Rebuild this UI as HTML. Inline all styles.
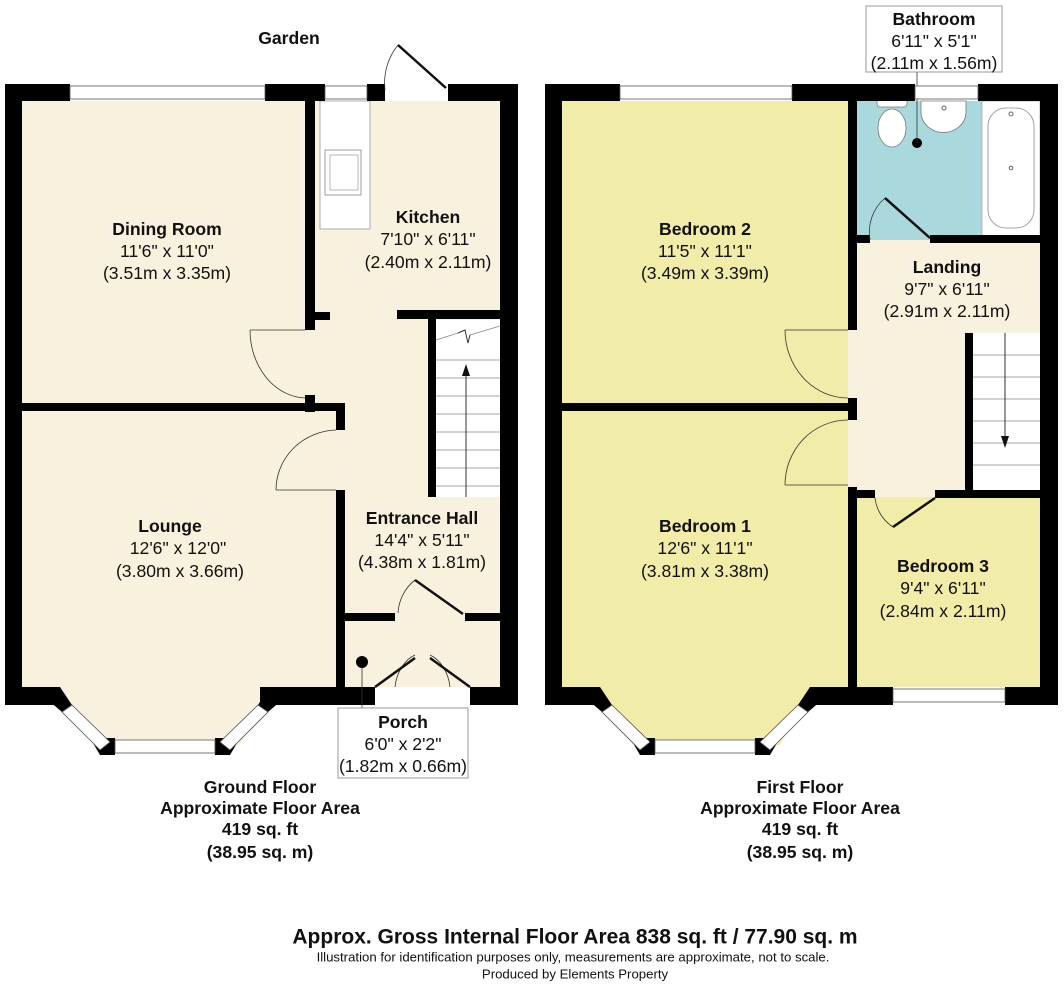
<!DOCTYPE html>
<html><head><meta charset="utf-8"><style>
html,body{margin:0;padding:0;background:#fff}
svg{display:block}
text{font-family:"Liberation Sans",Arial,sans-serif;fill:#111;text-anchor:middle;dominant-baseline:central}
.b{font-weight:bold}
.t{font-size:17.6px}
</style></head><body>
<svg width="1064" height="984" viewBox="0 0 1064 984" xmlns="http://www.w3.org/2000/svg">
<g>
<rect x="22" y="101" width="478" height="586" fill="#f8f1dd"/>
<polygon points="60,687 270,687 240,745 100,745" fill="#f8f1dd"/>
<rect x="320" y="101" width="50" height="128" fill="#fff" stroke="#999" stroke-width="0.8"/>
<rect x="325" y="150" width="36" height="45" fill="#fff" stroke="#888" stroke-width="0.8"/>
<rect x="330" y="155" width="28" height="35" fill="none" stroke="#888" stroke-width="0.6"/>
<rect x="436" y="320" width="64" height="177" fill="#fff"/>
<g stroke="#888" stroke-width="0.8">
<line x1="436" y1="360" x2="500" y2="360"/><line x1="436" y1="378" x2="500" y2="378"/>
<line x1="436" y1="396" x2="500" y2="396"/><line x1="436" y1="414" x2="500" y2="414"/>
<line x1="436" y1="432" x2="500" y2="432"/><line x1="436" y1="450" x2="500" y2="450"/>
<line x1="436" y1="468" x2="500" y2="468"/><line x1="436" y1="486" x2="500" y2="486"/>
<line x1="436" y1="340" x2="458" y2="333"/><line x1="470" y1="335" x2="500" y2="326"/>
</g>
<polyline points="458,333 465,330 468,343 470,335" fill="none" stroke="#333" stroke-width="1"/>
<line x1="466" y1="497" x2="466" y2="372" stroke="#333" stroke-width="1"/>
<polygon points="466,364 462,376 470,376" fill="#111"/>
<g fill="#000">
<rect x="5" y="84" width="17" height="621"/>
<rect x="500" y="84" width="18" height="621"/>
<rect x="5" y="84" width="65" height="17"/>
<rect x="265" y="84" width="60" height="17"/>
<rect x="367" y="84" width="18" height="17"/>
<rect x="448" y="84" width="70" height="17"/>
<rect x="5" y="687" width="55" height="18"/>
<rect x="260" y="687" width="115" height="18"/>
<rect x="470" y="687" width="48" height="18"/>
<rect x="305" y="101" width="10" height="229"/>
<rect x="305" y="312" width="25" height="8"/>
<rect x="305" y="395" width="10" height="17"/>
<rect x="397" y="310" width="103" height="9"/>
<rect x="428" y="319" width="8" height="178"/>
<rect x="22" y="403" width="323" height="8"/>
<rect x="336" y="403" width="9" height="27"/>
<rect x="336" y="490" width="9" height="197"/>
<rect x="345" y="613" width="50" height="8"/>
<rect x="465" y="613" width="35" height="8"/>
<polygon points="60,687 72,705 62,712 48,700" />
<polygon points="270,687 258,705 268,712 282,700"/>
<polygon points="90,738 115,738 115,755 100,755"/>
<polygon points="215,738 240,738 230,755 215,755"/>
</g>
<g fill="#fff" stroke="#555" stroke-width="0.8">
<rect x="70" y="86" width="195" height="13"/>
<rect x="325" y="86" width="42" height="13"/>
<rect x="115" y="740" width="100" height="13"/>
</g>
<polygon points="62,712 72,705 110,742 100,750" fill="#fff" stroke="#555" stroke-width="0.8"/>
<polygon points="268,712 258,705 220,742 230,750" fill="#fff" stroke="#555" stroke-width="0.8"/>
<g fill="none" stroke="#333" stroke-width="0.8">
<path d="M250,330 A57,68 0 0 0 305,398"/>
<line x1="250" y1="330" x2="305" y2="330"/>
<path d="M336,430 A62,60 0 0 0 276,490"/>
<line x1="276" y1="490" x2="336" y2="490"/>
<path d="M398,613 A45,45 0 0 1 415,580"/>
<path d="M385,90 A60,60 0 0 1 398,45"/>
<path d="M395,687 A30,40 0 0 1 415,655"/>
<path d="M450,687 A30,40 0 0 0 430,655"/>
<line x1="362" y1="662" x2="362" y2="708"/>
</g>
<g stroke="#111" stroke-width="2.5">
<line x1="415" y1="580" x2="463" y2="614"/>
<line x1="398" y1="45" x2="446" y2="88"/>
<line x1="375" y1="687" x2="415" y2="658"/>
<line x1="470" y1="687" x2="430" y2="658"/>
</g>
<circle cx="362" cy="662" r="6" fill="#000"/>
<rect x="338" y="708" width="130" height="70" fill="#fff" stroke="#999" stroke-width="1"/>
</g>

<g>
<rect x="562" y="101" width="478" height="586" fill="#f2eca9"/>
<polygon points="600,687 810,687 780,745 640,745" fill="#f2eca9"/>
<rect x="855" y="101" width="185" height="140" fill="#aad9dd"/>
<rect x="848" y="240" width="192" height="257" fill="#f7f1dd"/>
<rect x="982" y="101" width="58" height="135" fill="#fff" stroke="#aaa" stroke-width="0.8"/>
<rect x="988" y="108" width="46" height="120" rx="18" fill="#fff" stroke="#888" stroke-width="0.8"/>
<circle cx="1011" cy="114" r="2" fill="none" stroke="#666"/>
<circle cx="1011" cy="168" r="1.8" fill="none" stroke="#666"/>
<rect x="877" y="99" width="30" height="8" rx="3" fill="#fff" stroke="#777" stroke-width="0.8"/>
<ellipse cx="892" cy="128" rx="14" ry="19" fill="#fff" stroke="#777" stroke-width="0.8"/>
<path d="M921,101 L966,101 L966,112 A22,20 0 0 1 921,112 Z" fill="#fff" stroke="#777" stroke-width="0.8"/>
<circle cx="944" cy="108" r="2" fill="none" stroke="#666"/>
<circle cx="917" cy="143" r="5" fill="#000"/>
<line x1="917" y1="72" x2="917" y2="143" stroke="#333" stroke-width="0.8"/>
<rect x="973" y="333" width="67" height="157" fill="#fff"/>
<g stroke="#888" stroke-width="0.8">
<line x1="973" y1="355" x2="1040" y2="355"/><line x1="973" y1="377" x2="1040" y2="377"/>
<line x1="973" y1="399" x2="1040" y2="399"/><line x1="973" y1="421" x2="1040" y2="421"/>
<line x1="973" y1="443" x2="1040" y2="443"/><line x1="973" y1="465" x2="1040" y2="465"/>
</g>
<line x1="1005" y1="333" x2="1005" y2="440" stroke="#333" stroke-width="1"/>
<polygon points="1005,448 1001,436 1009,436" fill="#111"/>
<g fill="#000">
<rect x="545" y="84" width="17" height="621"/>
<rect x="1040" y="84" width="18" height="621"/>
<rect x="545" y="84" width="75" height="17"/>
<rect x="792" y="84" width="123" height="17"/>
<rect x="978" y="84" width="80" height="17"/>
<rect x="545" y="687" width="55" height="18"/>
<rect x="810" y="687" width="83" height="18"/>
<rect x="1005" y="687" width="53" height="18"/>
<rect x="848" y="101" width="9" height="229"/>
<rect x="848" y="235" width="22" height="8"/>
<rect x="930" y="235" width="110" height="8"/>
<rect x="848" y="398" width="9" height="22"/>
<rect x="562" y="403" width="290" height="8"/>
<rect x="848" y="487" width="9" height="200"/>
<rect x="848" y="490" width="27" height="8"/>
<rect x="935" y="490" width="105" height="8"/>
<rect x="965" y="333" width="8" height="157"/>
<polygon points="600,687 612,705 602,712 588,700"/>
<polygon points="810,687 798,705 808,712 822,700"/>
<polygon points="630,738 655,738 655,755 640,755"/>
<polygon points="755,738 780,738 770,755 755,755"/>
</g>
<g fill="#fff" stroke="#555" stroke-width="0.8">
<rect x="620" y="86" width="172" height="13"/>
<rect x="915" y="86" width="63" height="13"/>
<rect x="893" y="689" width="112" height="13"/>
<rect x="655" y="740" width="100" height="13"/>
</g>
<polygon points="602,712 612,705 650,742 640,750" fill="#fff" stroke="#555" stroke-width="0.8"/>
<polygon points="808,712 798,705 760,742 770,750" fill="#fff" stroke="#555" stroke-width="0.8"/>
<g fill="none" stroke="#333" stroke-width="0.8">
<path d="M785,330 A63,68 0 0 0 848,398"/>
<line x1="785" y1="330" x2="848" y2="330"/>
<path d="M848,420 A63,65 0 0 0 785,485"/>
<line x1="785" y1="485" x2="848" y2="485"/>
<path d="M870,240 A45,45 0 0 1 885,198"/>
<path d="M875,498 A40,40 0 0 0 893,527"/>
</g>
<g stroke="#111" stroke-width="2.5">
<line x1="885" y1="198" x2="930" y2="238"/>
<line x1="893" y1="527" x2="935" y2="498"/>
</g>
<rect x="866" y="6" width="136" height="66" fill="#fff" stroke="#999" stroke-width="1"/>
</g>

<g class="t">
<text x="289" y="38" class="b">Garden</text>
<text x="167" y="229" class="b">Dining Room</text><text x="167" y="251">11'6" x 11'0"</text><text x="167" y="273">(3.51m x 3.35m)</text>
<text x="428" y="217" class="b">Kitchen</text><text x="428" y="239">7'10" x 6'11"</text><text x="428" y="262">(2.40m x 2.11m)</text>
<text x="170" y="526" class="b">Lounge</text><text x="178" y="548">12'6" x 12'0"</text><text x="180" y="571">(3.80m x 3.66m)</text>
<text x="422" y="518" class="b">Entrance Hall</text><text x="422" y="540">14'4" x 5'11"</text><text x="422" y="562">(4.38m x 1.81m)</text>
<text x="403" y="722" class="b">Porch</text><text x="403" y="744">6'0" x 2'2"</text><text x="403" y="766">(1.82m x 0.66m)</text>
<text x="260" y="787" class="b">Ground Floor</text><text x="260" y="808" class="b">Approximate Floor Area</text><text x="260" y="829" class="b">419 sq. ft</text><text x="260" y="852" class="b">(38.95 sq. m)</text>
<text x="934" y="19" class="b">Bathroom</text><text x="934" y="41">6'11" x 5'1"</text><text x="934" y="63">(2.11m x 1.56m)</text>
<text x="705" y="229" class="b">Bedroom 2</text><text x="705" y="251">11'5" x 11'1"</text><text x="705" y="273">(3.49m x 3.39m)</text>
<text x="947" y="267" class="b">Landing</text><text x="947" y="289">9'7" x 6'11"</text><text x="947" y="311">(2.91m x 2.11m)</text>
<text x="705" y="526" class="b">Bedroom 1</text><text x="705" y="548">12'6" x 11'1"</text><text x="705" y="571">(3.81m x 3.38m)</text>
<text x="943" y="566" class="b">Bedroom 3</text><text x="943" y="588">9'4" x 6'11"</text><text x="943" y="611">(2.84m x 2.11m)</text>
<text x="800" y="787" class="b">First Floor</text><text x="800" y="808" class="b">Approximate Floor Area</text><text x="800" y="829" class="b">419 sq. ft</text><text x="800" y="852" class="b">(38.95 sq. m)</text>
</g>
<text x="575" y="937" class="b" style="font-size:21px">Approx. Gross Internal Floor Area 838 sq. ft / 77.90 sq. m</text>
<text x="573" y="957" style="font-size:13.2px">Illustration for identification purposes only, measurements are approximate, not to scale.</text>
<text x="575" y="974" style="font-size:13.2px">Produced by Elements Property</text>
</svg>
</body></html>
